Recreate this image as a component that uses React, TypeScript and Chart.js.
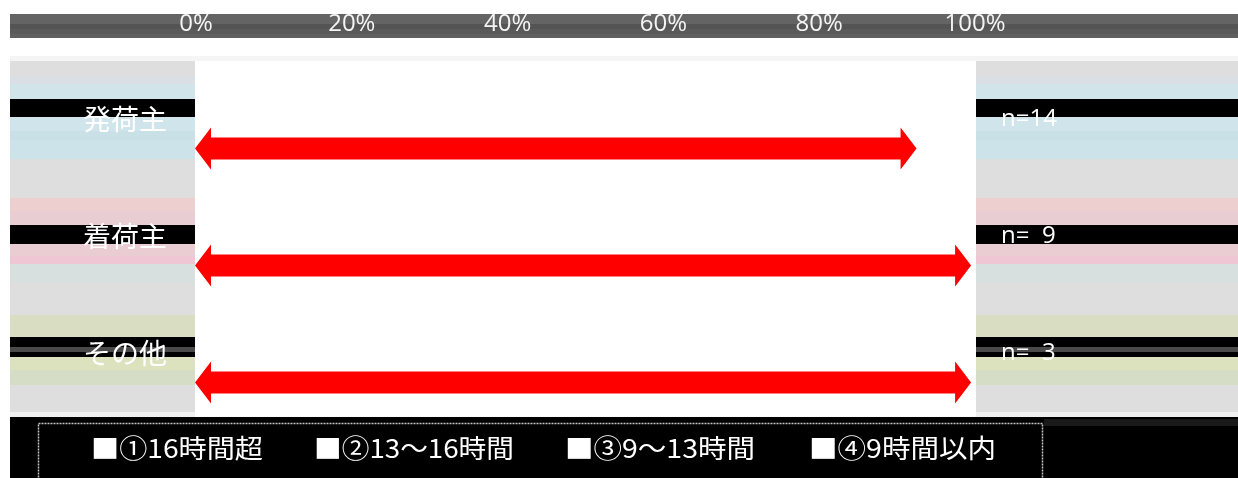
import React, { useEffect, useRef } from "react";
import { Chart, registerables } from "chart.js";

Chart.register(...registerables);

// ---- data ----
const categories = ["発荷主", "着荷主", "その他"];
const sampleSizes = ["n=14", "n=  9", "n=  3"];
const arrowStart = [0, 0, 0];
const arrowEnd = [92.5, 99.5, 99.5];
const xTickStep = 20;
const legendLabels = ["■①16時間超", "■②13～16時間", "■③9～13時間", "■④9時間以内"];

// ---- styles ----
const W = 1238;
const H = 478;
const TOP_STRIPES: [number, number, string][] = [
  [14, 24, "#646464"],
  [24, 29, "#545454"],
  [29, 34, "#5a5a5a"],
  [34, 38, "#606060"],
];
const SIDE_STRIPES: [number, number, string][] = [
  [61, 76, "#dedede"],
  [76, 84, "#d9dfe4"],
  [84, 99, "#d0e4ea"],
  [99, 117, "#000000"],
  [117, 131, "#cfe4eb"],
  [131, 140, "#c9e0e7"],
  [140, 159, "#cde3ea"],
  [159, 198, "#dedede"],
  [198, 211, "#eecfd0"],
  [211, 225, "#e8cdd2"],
  [225, 244, "#000000"],
  [244, 256, "#e9cdd3"],
  [256, 264, "#efc6d4"],
  [264, 282, "#d7dfdf"],
  [282, 315, "#dedede"],
  [315, 337, "#d9dec2"],
  [337, 347, "#000000"],
  [347, 352, "#4a4a4a"],
  [352, 357, "#000000"],
  [357, 370, "#dce1be"],
  [370, 385, "#d6ddc6"],
  [385, 412, "#dedede"],
];
const LEGEND_ITEMS_POS: [number, number][] = [
  [91, 263],
  [314, 514],
  [565, 755],
  [809, 996],
];

const backgroundPlugin = {
  id: "bgPlugin",
  beforeDraw(chart: any) {
    const ctx = chart.ctx as CanvasRenderingContext2D;
    const area = chart.chartArea;
    ctx.save();
    ctx.fillStyle = "#ffffff";
    ctx.fillRect(0, 0, W, H);
    for (const [y0, y1, c] of TOP_STRIPES) {
      ctx.fillStyle = c;
      ctx.fillRect(10, y0, W - 10, y1 - y0);
    }
    ctx.fillStyle = "#f5f5f5";
    ctx.fillRect(10, 56, W - 10, 5);
    for (const [y0, y1, c] of SIDE_STRIPES) {
      ctx.fillStyle = c;
      ctx.fillRect(10, y0, area.left - 11, y1 - y0);
      ctx.fillRect(area.right + 1, y0, W - area.right - 1, y1 - y0);
    }
    ctx.fillStyle = "#f0f0f0";
    ctx.fillRect(10, 412, area.left - 11, 5);
    ctx.fillRect(area.right + 1, 412, W - area.right - 1, 5);
    ctx.fillStyle = "#ffffff";
    ctx.fillRect(area.left, area.top, area.right - area.left, area.bottom - area.top);
    // legend area
    ctx.fillStyle = "#000000";
    ctx.fillRect(10, 417, W - 10, H - 417);
    ctx.fillStyle = "#1a1a1a";
    ctx.fillRect(1044, 419, W - 1044, 7);
    ctx.strokeStyle = "#c4c4c4";
    ctx.lineWidth = 1.5;
    ctx.setLineDash([2, 1]);
    ctx.strokeRect(38.5, 423.5, 1004, 70);
    ctx.setLineDash([]);
    ctx.restore();
  },
};

const arrowPlugin = {
  id: "arrowPlugin",
  afterDatasetsDraw(chart: any) {
    const ctx = chart.ctx as CanvasRenderingContext2D;
    const xs = chart.scales.x;
    const ys = chart.scales.y;
    const shaftH = 22;
    const headH = 42;
    const headL = 16;
    ctx.save();
    ctx.fillStyle = "#ff0000";
    arrowEnd.forEach((end, i) => {
      const x0 = xs.getPixelForValue(arrowStart[i]) - 1;
      const x1 = xs.getPixelForValue(end);
      const y = ys.getPixelForValue(i) + 29;
      ctx.beginPath();
      ctx.moveTo(x0, y);
      ctx.lineTo(x0 + headL, y - headH / 2);
      ctx.lineTo(x0 + headL, y - shaftH / 2);
      ctx.lineTo(x1 - headL, y - shaftH / 2);
      ctx.lineTo(x1 - headL, y - headH / 2);
      ctx.lineTo(x1, y);
      ctx.lineTo(x1 - headL, y + headH / 2);
      ctx.lineTo(x1 - headL, y + shaftH / 2);
      ctx.lineTo(x0 + headL, y + shaftH / 2);
      ctx.lineTo(x0 + headL, y + headH / 2);
      ctx.closePath();
      ctx.fill();
    });
    ctx.restore();
  },
  afterDraw(chart: any) {
    const ctx = chart.ctx as CanvasRenderingContext2D;
    ctx.save();
    ctx.fillStyle = "#ffffff";
    ctx.font = "26px 'Noto Sans CJK JP'";
    ctx.textBaseline = "middle";
    ctx.textAlign = "left";
    legendLabels.forEach((label, i) => {
      const [x0, x1] = LEGEND_ITEMS_POS[i];
      const w = ctx.measureText(label).width;
      const sx = (x1 - x0) / w;
      ctx.save();
      ctx.translate(x0, 448);
      ctx.scale(sx, 1);
      ctx.fillText(label, 0, 0);
      ctx.restore();
    });
    ctx.restore();
  },
};

export default function App() {
  const canvasRef = useRef<HTMLCanvasElement | null>(null);

  useEffect(() => {
    const canvas = canvasRef.current;
    if (!canvas) return;
    const chart = new Chart(canvas, {
      type: "bar",
      data: {
        labels: categories,
        datasets: [
          {
            label: "range",
            data: arrowEnd.map((e, i) => [arrowStart[i], e]) as any,
            backgroundColor: "rgba(0,0,0,0)",
            borderWidth: 0,
          },
        ],
      },
      options: {
        indexAxis: "y",
        responsive: false,
        animation: false,
        devicePixelRatio: 1,
        events: [],
        layout: { padding: { top: 0, left: 0, right: 0, bottom: 66 } },
        plugins: {
          legend: { display: false },
          tooltip: { enabled: false },
        },
        scales: {
          x: {
            type: "linear",
            position: "top",
            min: 0,
            max: 100,
            grid: { display: false, drawTicks: false },
            border: { display: false },
            ticks: {
              stepSize: xTickStep,
              color: "#f4f4f4",
              font: { family: "Open Sans", size: 24 },
              padding: 22,
              maxRotation: 0,
              autoSkip: false,
              callback: (v: any) => `${v}%`,
            },
            afterFit: (s: any) => {
              s.height = 61;
            },
          },
          y: {
            type: "category",
            position: "left",
            offset: true,
            grid: { display: false, drawTicks: false },
            border: { display: false },
            ticks: {
              color: "#ffffff",
              font: { family: "Noto Sans CJK JP", size: 28 },
              padding: 29,
            },
            afterFit: (s: any) => {
              s.width = 196;
            },
          },
          y2: {
            type: "category",
            position: "right",
            offset: true,
            labels: sampleSizes,
            grid: { display: false, drawTicks: false },
            border: { display: false },
            ticks: {
              color: "#ffffff",
              font: { family: "Open Sans", size: 24 },
              padding: 26,
            },
            afterFit: (s: any) => {
              s.width = W - 975;
            },
          },
        },
      } as any,
      plugins: [backgroundPlugin, arrowPlugin],
    });
    return () => chart.destroy();
  }, []);

  return (
    <div style={{ position: "absolute", left: 0, top: 0, width: W, height: H }}>
      <canvas ref={canvasRef} width={W} height={H} style={{ display: "block" }} />
    </div>
  );
}
